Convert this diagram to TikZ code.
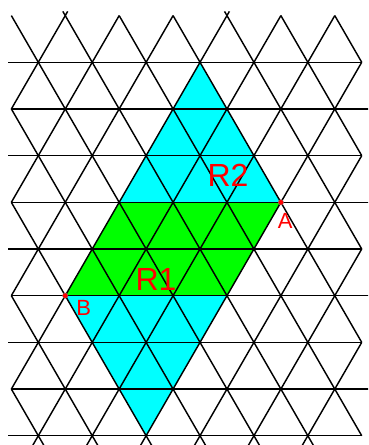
\documentclass[tikz,border=0pt]{standalone}
\usepackage{fontspec}
\setmainfont{Liberation Sans}
\usetikzlibrary{calc,positioning}
\definecolor{latticeCyan}{RGB}{0, 255, 255}
\definecolor{latticeGreen}{RGB}{0, 255, 0}
\definecolor{latticeRed}{RGB}{255, 0, 0}

\begin{document}
\begin{tikzpicture}[
  x=53.9pt,
  y=53.9pt,
  grid/.style={black,line width=1.45pt},
  regionlabel/.style={
    text=latticeRed,
    inner sep=0pt,
    font=\fontsize{32}{32}\selectfont
  },
  pointlabel/.style={
    text=latticeRed,
    inner sep=0pt,
    font=\fontsize{22}{22}\selectfont
  },
  latticepoint/.style={circle,fill=latticeRed,draw=black!50,line width=0.3pt,inner sep=0pt,minimum size=5.5pt}
]
  \def\h{0.8660}
  \useasboundingbox (-0.2106,-7.966) rectangle (6.617,0.2894);
  \clip (-0.2106,-7.966) rectangle (6.617,0.2894);

  \coordinate (top) at (3.5,-\h);
  \coordinate (A) at (5,-4*\h);
  \coordinate (bottom) at (2.5,-9*\h);
  \coordinate (B) at (1,-6*\h);
  \coordinate (greenNW) at (2,-4*\h);
  \coordinate (greenSE) at (4,-6*\h);

  \fill[latticeCyan] (top) -- (A) -- (bottom) -- (B) -- cycle;
  \fill[latticeGreen] (greenNW) -- (A) -- (greenSE) -- (B) -- cycle;

  \foreach \k in {1,3,5,7,9}
    \draw[grid] (-0.06,-\k*\h) -- (6.5,-\k*\h);
  \foreach \k in {2,4,6,8}
    \draw[grid] (0,-\k*\h) -- (6.7,-\k*\h);

  \foreach \a in {-4,...,6}{
    \pgfmathtruncatemacro\kstart{max(0,-2*\a)}
    \pgfmathtruncatemacro\kend{min(9,13-2*\a)}
    \draw[grid] (\a+\kstart/2,-\kstart*\h) -- (\a+\kend/2,-\kend*\h);
  }
  \foreach \b in {1,...,10}{
    \pgfmathtruncatemacro\kstart{max(0,2*\b-13)}
    \pgfmathtruncatemacro\kend{min(9,2*\b)}
    \draw[grid] (\b-\kstart/2,-\kstart*\h) -- (\b-\kend/2,-\kend*\h);
  }

  \foreach \x in {1,4}
    \draw[grid] (\x,0) -- ++(-0.045,0.078) (\x,0) -- ++(0.045,0.078);
  \foreach \x in {0.5,1.5,...,5.5}
    \draw[grid] (\x,-9*\h) -- ++(-0.15,-0.26) (\x,-9*\h) -- ++(0.15,-0.26);

  \node[regionlabel] (labelR2) at (4.02,-2.957) {R2};
  \node[regionlabel] (labelR1) at (2.684,-4.887) {R1};
  \node[latticepoint] (pointA) at (A) {};
  \node[latticepoint] (pointB) at (B) {};
  \node[pointlabel] (labelA) at (5.08,-3.81) {A};
  \node[pointlabel] (labelB) at (1.342,-5.425) {B};
\end{tikzpicture}
\end{document}
